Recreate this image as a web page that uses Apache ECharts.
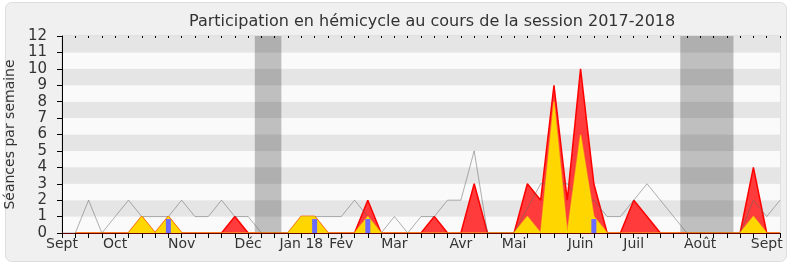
<!DOCTYPE html>
<html>
<head>
<meta charset="utf-8">
<script src="https://cdn.jsdelivr.net/npm/echarts@6/dist/echarts.min.js"></script>
<style>
html,body{margin:0;padding:0;background:#ffffff;}
#chart{width:790px;height:267px;}
</style>
</head>
<body>
<div id="chart"></div>
<script>
// Week index 0..54 : weeks of the 2017-2018 session (Sept 2017 -> Sept 2018)
var weeks = [];
for (var w = 0; w <= 54; w++) weeks.push(w);

// Month labels placed on week indices
var monthTicks = [0, 4, 9, 14, 18, 21, 25, 30, 34, 39, 43, 48, 53];
var monthNames = ['Sept', 'Oct', 'Nov', 'Déc', 'Jan 18', 'Fév', 'Mar', 'Avr', 'Mai', 'Juin', 'Juil', 'Août', 'Sept'];

// Grey line: reference activity (sessions per week)
var greyValues = [0,0,2,0,1,2,1,1,1,2, 1,1,2,1,1,0,0,0,1,1, 1,1,2,1,0,1,0,1,1,2, 2,5,0,0,0,1.5,3,3,3,2, 2,1,1,2,3,2,1,0,0,0, 0,0,2,1,2];
// Red area: presence in hemicycle
var redValues = ['-',0,0,0,0,0,1,0,1,0, 0,0,0,1,0,0,0,0,1,1, 0,0,0,2,0,0,0,0,1,0, 0,3,0,0,0,3,2,9,2,10, 3,0,0,2,1,0,0,0,0,0, 0,0,4,0,0];
// Yellow area: interventions
var yellowValues = ['-',0,0,0,0,0,1,0,1,0, 0,0,0,0,0,0,0,0,1,1, 0,0,0,1,0,0,0,0,0,0, 0,0,0,0,0,1,0,8,0,6, 1,0,0,0,0,0,0,0,0,0, 0,0,1,0,0];
// Blue bars: questions
var blueWeeks = [8, 19, 23, 40];
var blueValues = [0.85, 0.85, 0.85, 0.85];

// Parliamentary holidays (week ranges)
var holidays = [[14.5, 16.5], [46.5, 50.5]];

function pairs(vals) {
  return weeks.map(function (w, i) { return [w, vals[i]]; });
}

var chart = echarts.init(document.getElementById('chart'));
var option = {
  backgroundColor: '#ffffff',
  animation: false,
  graphic: [{
    type: 'rect', z: -10,
    shape: { x: 5.5, y: 2.5, width: 781, height: 259, r: 6 },
    style: { fill: '#f0f0f0', stroke: '#dedede', lineWidth: 1 }
  }],
  title: {
    text: 'Participation en hémicycle au cours de la session 2017-2018',
    left: 184, top: 9,
    textStyle: { fontFamily: 'DejaVu Sans', fontSize: 16, fontWeight: 'normal', color: '#333' }
  },
  grid: { left: 62, right: 10, top: 36, bottom: 34, containLabel: false, outerBoundsMode: 'none',
    show: true, borderColor: '#d0d0d0', borderWidth: 1, backgroundColor: 'transparent' },
  xAxis: [{
    type: 'value', min: 0, max: 54, interval: 1, z: 10,
    axisLine: { show: true, lineStyle: { color: '#6a0000', width: 1.2 } },
    axisTick: { show: true, length: 5, lineStyle: { color: '#000' } },
    splitLine: { show: false },
    axisLabel: {
      margin: 4, fontFamily: 'DejaVu Sans', fontSize: 14, color: '#333',
      formatter: function (v) { var k = monthTicks.indexOf(Math.round(v)); return k >= 0 ? monthNames[k] : ''; }
    }
  }, {
    type: 'value', min: 0, max: 54, interval: 1, position: 'top',
    axisLine: { show: false },
    axisTick: { show: true, inside: true, length: 2, lineStyle: { color: '#000' } },
    axisLabel: { show: false },
    splitLine: { show: false }
  }],
  yAxis: {
    type: 'value', min: 0, max: 12, interval: 1,
    name: 'Séances par semaine', nameLocation: 'middle', nameRotate: 90, nameGap: 40,
    nameTextStyle: { fontFamily: 'DejaVu Sans', fontSize: 14, color: '#333' },
    axisLine: { show: true, lineStyle: { color: '#000' } },
    axisTick: { show: true, length: 5, lineStyle: { color: '#000' } },
    axisLabel: { margin: 15, fontFamily: 'DejaVu Sans', fontSize: 15, color: '#333' },
    splitLine: { show: false },
    splitArea: { show: true, areaStyle: { color: ['#fafafa', '#e5e5e5'] } }
  },
  series: [{
    name: 'Présences', type: 'line', z: 2, symbol: 'none', data: pairs(redValues),
    lineStyle: { color: '#ff0000', width: 1.5 },
    areaStyle: { color: '#ff3b3b', opacity: 1 }
  }, {
    name: 'Médiane', type: 'line', z: 3, symbol: 'none', data: pairs(greyValues),
    lineStyle: { color: 'rgba(100,100,100,0.5)', width: 1 },
    markArea: {
      silent: true,
      itemStyle: { color: 'rgba(0,0,0,0.235)' },
      data: holidays.map(function (h) { return [{ xAxis: h[0] }, { xAxis: h[1] }]; })
    }
  }, {
    name: 'Interventions', type: 'line', z: 4, symbol: 'none', data: pairs(yellowValues),
    lineStyle: { color: 'rgba(255,235,0,0.5)', width: 1.5 },
    areaStyle: { color: '#ffd600', opacity: 1 }
  }, {
    name: 'Questions', type: 'bar', z: 5, barWidth: 5,
    data: blueWeeks.map(function (w, i) { return [w, blueValues[i]]; }),
    itemStyle: { color: '#6b6bff' }
  }]
};
chart.setOption(option);
</script>
</body>
</html>
